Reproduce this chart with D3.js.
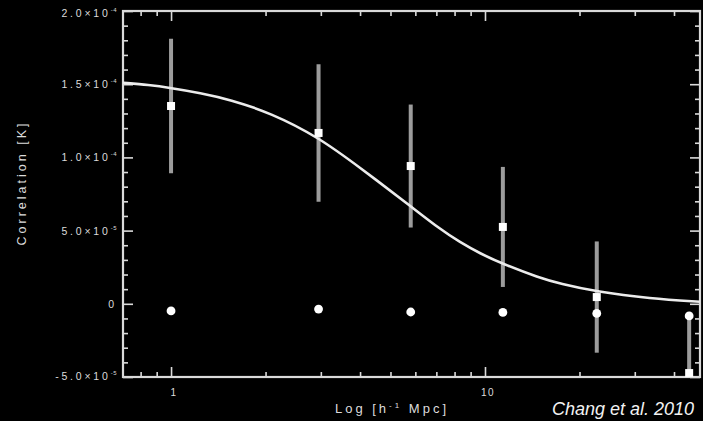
<!DOCTYPE html>
<html>
<head>
<meta charset="utf-8">
<script src="https://cdn.jsdelivr.net/npm/d3@7"></script>
<style>
  html, body { margin: 0; padding: 0; background: #000; }
  svg { display: block; }
  text { font-family: "Liberation Sans", Arial, sans-serif; fill: #dcdcdc; }
</style>
</head>
<body>
<svg id="chart" width="703" height="421"></svg>
<script>
// Measured cross-correlation at each lag, with 1-sigma errors
const lags = [1.0, 2.95, 5.8, 11.4, 22.7, 44.7];
const correlation = [1.351e-4, 1.167e-4, 0.941e-4, 0.525e-4, 0.046e-4, -0.473e-4];
const correlationErr = [4.6e-5, 4.7e-5, 4.2e-5, 4.1e-5, 3.8e-5, 4.0e-5];

// Null-test correlation at the same lags
const nullCorrelation = [-0.049e-4, -0.036e-4, -0.056e-4, -0.059e-4, -0.066e-4, -0.083e-4];

// Model curve samples
const modelLag = [0.703, 0.85, 0.993, 1.24, 1.54, 2.07, 2.94, 4.0, 5.81, 7.19, 8.33, 9.62, 11.4, 14.9, 17.3, 22.7, 33.6, 48.4];
const modelCorr = [1.51e-4, 1.495e-4, 1.475e-4, 1.44e-4, 1.395e-4, 1.305e-4, 1.14e-4, 0.93e-4, 0.665e-4, 0.51e-4, 0.42e-4, 0.345e-4, 0.272e-4, 0.178e-4, 0.138e-4, 0.082e-4, 0.036e-4, 0.014e-4];

// Axis ticks and labels
const yTickValues = [2e-4, 1.5e-4, 1e-4, 5e-5, 0, -5e-5];
const yTickMantissa = ["2.0\u00d710", "1.5\u00d710", "1.0\u00d710", "5.0\u00d710", "0", "-5.0\u00d710"];
const yTickExponent = ["-4", "-4", "-4", "-5", "", "-5"];
const yMinorStep = 1e-5;
const xTickValues = [1, 10];
const xTickLabels = ["1", "10"];
const xMinorValues = [0.8, 0.9, 2, 3, 4, 5, 6, 7, 8, 9, 20, 30, 40];

const W = 703, H = 421;
const L = 123, R = 700, T = 11, B = 377;
const axisColor = "#dadada";

const x = d3.scaleLog().domain([0.703, 48.4]).range([L, R]);
const y = d3.scaleLinear().domain([-5e-5, 2e-4]).range([B, T]);

const svg = d3.select("#chart");
svg.append("rect").attr("width", W).attr("height", H).attr("fill", "#000");

svg.append("defs").append("clipPath").attr("id", "plot-clip")
  .append("rect").attr("x", L).attr("y", T).attr("width", R - L).attr("height", B - T);

// Tick marks on all four sides, pointing into the plot
const yMinorValues = d3.range(-5e-5, 2e-4 + 1e-12, yMinorStep)
  .filter(v => !yTickValues.some(t => Math.abs(t - v) < 1e-12));

function tickGroup(axis, tx, ty) {
  const g = svg.append("g").attr("transform", `translate(${tx},${ty})`).call(axis);
  g.select(".domain").remove();
  g.selectAll("text").remove();
  g.selectAll("line").attr("stroke", axisColor).attr("stroke-width", 1.6);
}
tickGroup(d3.axisBottom(x).tickValues(xTickValues).tickSize(-10).tickSizeOuter(0), 0, B);
tickGroup(d3.axisBottom(x).tickValues(xMinorValues).tickSize(-5).tickSizeOuter(0), 0, B);
tickGroup(d3.axisTop(x).tickValues(xTickValues).tickSize(-10).tickSizeOuter(0), 0, T);
tickGroup(d3.axisTop(x).tickValues(xMinorValues).tickSize(-5).tickSizeOuter(0), 0, T);
tickGroup(d3.axisLeft(y).tickValues(yTickValues).tickSize(-10).tickSizeOuter(0), L, 0);
tickGroup(d3.axisLeft(y).tickValues(yMinorValues).tickSize(-5).tickSizeOuter(0), L, 0);
tickGroup(d3.axisRight(y).tickValues(yTickValues).tickSize(-10).tickSizeOuter(0), R, 0);
tickGroup(d3.axisRight(y).tickValues(yMinorValues).tickSize(-5).tickSizeOuter(0), R, 0);

// Plot frame
svg.append("rect")
  .attr("x", L).attr("y", T).attr("width", R - L).attr("height", B - T)
  .attr("fill", "none").attr("stroke", axisColor).attr("stroke-width", 2.2);

// Y tick labels with superscript exponents
yTickValues.forEach((v, i) => {
  const t = svg.append("text")
    .attr("x", 117).attr("y", y(v) + 4 + (i === 0 ? 2 : 0) - (i === yTickValues.length - 1 ? 1 : 0))
    .attr("text-anchor", "end")
    .style("font-size", "10.5px").style("letter-spacing", "2.8px");
  t.append("tspan").text(yTickMantissa[i]);
  if (yTickExponent[i]) {
    t.append("tspan").attr("dy", -5).style("font-size", "6px").style("letter-spacing", "0.5px").text(yTickExponent[i]);
  }
});

// X tick labels
xTickValues.forEach((v, i) => {
  svg.append("text")
    .attr("x", x(v) + 3).attr("y", 396)
    .attr("text-anchor", "middle")
    .style("font-size", "10px").style("letter-spacing", "1.5px")
    .text(xTickLabels[i]);
});

// Axis titles
const xTitle = svg.append("text")
  .attr("x", 392).attr("y", 413)
  .attr("text-anchor", "middle")
  .style("font-size", "13px").style("letter-spacing", "3px");
xTitle.append("tspan").text("Log [h");
xTitle.append("tspan").attr("dy", -5).style("font-size", "8px").text("-1");
xTitle.append("tspan").attr("dy", 5).text(" Mpc]");

svg.append("text")
  .attr("transform", "translate(26,183) rotate(-90)")
  .attr("text-anchor", "middle")
  .style("font-size", "12.5px").style("letter-spacing", "3px")
  .text("Correlation [K]");

// Error bars, clipped to the plot area
const plot = svg.append("g").attr("clip-path", "url(#plot-clip)");
plot.selectAll("line.err")
  .data(lags)
  .join("line")
  .attr("class", "err")
  .attr("x1", d => x(d)).attr("x2", d => x(d))
  .attr("y1", (d, i) => y(correlation[i] + correlationErr[i]))
  .attr("y2", (d, i) => y(correlation[i] - correlationErr[i]))
  .attr("stroke", "#9c9c9c").attr("stroke-width", 4);

// Model curve
const line = d3.line()
  .x(d => x(d[0]))
  .y(d => y(d[1]))
  .curve(d3.curveBasis);
plot.append("path")
  .datum(modelLag.map((l, i) => [l, modelCorr[i]]))
  .attr("d", line)
  .attr("fill", "none").attr("stroke", "#ececec").attr("stroke-width", 2.6);

// Null-test points
svg.selectAll("circle.null")
  .data(lags)
  .join("circle")
  .attr("class", "null")
  .attr("cx", d => x(d)).attr("cy", (d, i) => y(nullCorrelation[i]))
  .attr("r", 4.4).attr("fill", "#fff");

// Measured points
const s = 8;
svg.selectAll("rect.pt")
  .data(lags)
  .join("rect")
  .attr("class", "pt")
  .attr("x", d => x(d) - s / 2).attr("y", (d, i) => y(correlation[i]) - s / 2)
  .attr("width", s).attr("height", s)
  .attr("fill", "#fff");

// Citation
svg.append("text")
  .attr("x", 552).attr("y", 415)
  .style("font-size", "18px").style("font-style", "italic").style("fill", "#f2f2f2")
  .text("Chang et al. 2010");
</script>
</body>
</html>
